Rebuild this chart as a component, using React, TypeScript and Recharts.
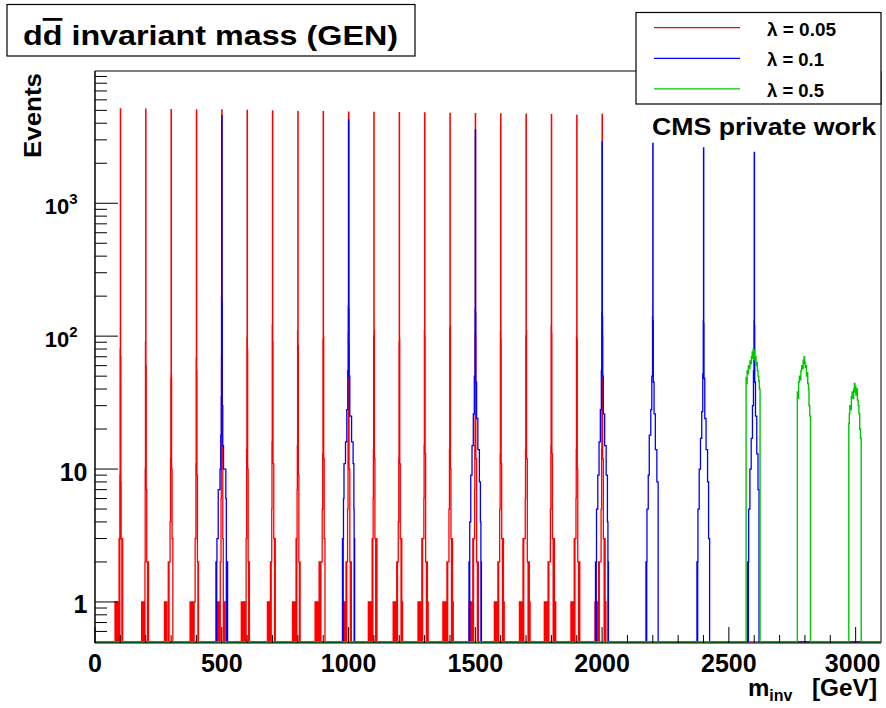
import { LineChart, Line, XAxis, YAxis, ReferenceLine } from "recharts";

// empty bins sit on the floor of the log axis
const F = 0.5;
const X_MAX = 3100;
const Y_MIN = 0.491;
const Y_MAX = 9890;

const RED = "#ff0000";
const BLUE = "#0000ff";
const GREEN = "#00c800";
const FONT = "'Liberation Sans', Arial, Helvetica, sans-serif";

// [m_inv lower bin edge (GeV), events], step-after encoding
const redPeaks: [number, number][][] = [
  [[79, 1], [81, F], [82, 1], [85, F], [86, 1], [88, F], [89, 1], [91, F], [95, 3], [97, F], [98, 9], [99, 80], [100, 5120], [101, 70], [102, 8], [103, 3], [106, F], [107, 3], [109, F]],
  [[184, 1], [186, F], [187, 1], [189, F], [190, 1], [192, F], [193, 1], [194, F], [197, 2], [198, 10], [199, 90], [200, 5100], [201, 60], [202, 7], [204, 2], [207, F], [208, 2], [211, F]],
  [[274, 1], [276, F], [277, 1], [279, F], [280, 1], [283, F], [289, 2], [291, F], [292, 2], [296, 4], [298, 12], [299, 48], [300, 5070], [301, 50], [302, 10], [304, 3], [307, F]],
  [[375, 1], [377, F], [378, 1], [381, F], [382, 1], [386, F], [388, 1], [390, F], [391, 1], [395, 3], [398, 11], [399, 68], [400, 5030], [401, 55], [402, 9], [404, 2], [406, F], [407, 2], [408, F]],
  [[481, 1], [483, F], [484, 1], [487, F], [488, 1], [490, F], [494, 2], [497, 6], [498, 14], [499, 70], [500, 5030], [501, 60], [502, 12], [504, 3], [506, F], [507, 1], [509, F], [510, 1], [513, F]],
  [[577, 1], [579, F], [580, 1], [583, F], [584, 1], [587, F], [588, 1], [591, F], [592, 1], [595, F], [596, 3], [598, 14], [599, 98], [600, 5000], [601, 80], [602, 10], [604, 2], [606, F], [607, 2], [609, F]],
  [[680, 1], [682, F], [683, 1], [685, F], [686, 1], [688, F], [692, 2], [694, F], [695, 2], [697, 5], [698, 16], [699, 121], [700, 4950], [701, 90], [702, 11], [705, 3], [708, F], [709, 3], [711, F]],
  [[779, 1], [781, F], [782, 1], [785, F], [786, 1], [790, F], [793, 3], [795, F], [796, 3], [797, 7], [798, 15], [799, 110], [800, 4900], [801, 85], [802, 9], [804, 2], [806, F], [807, 2], [809, F]],
  [[868, 1], [870, F], [871, 1], [874, F], [875, 1], [877, F], [878, 1], [880, F], [884, 2], [886, F], [887, 2], [890, F], [891, 2], [896, 5], [898, 13], [899, 95], [900, 4880], [901, 100], [902, 12], [904, 3], [907, F]],
  [[978, 1], [980, F], [981, 1], [983, F], [984, 1], [986, F], [990, 2], [992, F], [993, 2], [996, 5], [998, 16], [999, 105], [1000, 4850], [1001, 90], [1002, 10], [1005, 2], [1007, F], [1008, 2], [1011, F]],
  [[1078, 1], [1080, F], [1081, 1], [1084, F], [1085, 1], [1087, F], [1088, 1], [1090, F], [1093, 3], [1095, F], [1096, 3], [1097, 6], [1098, 14], [1099, 100], [1100, 4820], [1101, 110], [1102, 12], [1104, 3], [1107, F], [1108, 3], [1112, F]],
  [[1176, 1], [1178, F], [1179, 1], [1182, F], [1183, 1], [1186, F], [1190, 2], [1192, F], [1193, 2], [1196, 4], [1198, 12], [1199, 90], [1200, 4800], [1201, 95], [1202, 11], [1204, 3], [1207, F], [1208, 3], [1210, F], [1211, 1], [1213, F]],
  [[1274, 1], [1276, F], [1277, 1], [1280, F], [1281, 1], [1285, F], [1289, 3], [1291, F], [1292, 3], [1297, 6], [1298, 15], [1299, 110], [1300, 4780], [1301, 100], [1302, 13], [1304, 2], [1307, F], [1308, 2], [1311, F], [1312, 1], [1314, F]],
  [[1372, 1], [1374, F], [1375, 1], [1378, F], [1379, 1], [1383, F], [1388, 2], [1390, F], [1391, 2], [1396, 5], [1398, 14], [1399, 115], [1400, 4750], [1401, 120], [1402, 10], [1404, 3], [1406, F], [1407, 3], [1410, F], [1411, 1], [1413, F]],
  [[1476, 1], [1478, F], [1479, 1], [1482, F], [1483, 1], [1486, F], [1490, 3], [1492, F], [1493, 3], [1497, 7], [1498, 15], [1499, 105], [1500, 4720], [1501, 100], [1502, 12], [1505, 2], [1508, F], [1509, 2], [1512, F]],
  [[1575, 1], [1577, F], [1578, 1], [1581, F], [1582, 1], [1585, F], [1589, 2], [1591, F], [1592, 2], [1596, 5], [1598, 13], [1599, 110], [1600, 4700], [1601, 95], [1602, 11], [1604, 3], [1607, F], [1608, 3], [1611, F], [1612, 1], [1614, F]],
  [[1674, 1], [1676, F], [1677, 1], [1680, F], [1681, 1], [1684, F], [1688, 3], [1690, F], [1691, 3], [1697, 6], [1698, 14], [1699, 100], [1700, 4680], [1701, 110], [1702, 12], [1705, 2], [1708, F], [1709, 2], [1713, F], [1714, 1], [1716, F]],
  [[1772, 1], [1774, F], [1775, 1], [1778, F], [1779, 1], [1782, F], [1787, 2], [1789, F], [1790, 2], [1796, 5], [1798, 15], [1799, 120], [1800, 4650], [1801, 105], [1802, 13], [1804, 3], [1807, F], [1808, 3], [1812, F], [1813, 1], [1817, F]],
  [[1877, 1], [1879, F], [1880, 1], [1883, F], [1884, 1], [1886, F], [1890, 3], [1892, F], [1893, 3], [1897, 6], [1898, 14], [1899, 100], [1900, 4580], [1901, 95], [1902, 10], [1904, 2], [1907, F], [1908, 2], [1912, F]],
  [[1972, 1], [1974, F], [1975, 1], [1978, F], [1979, 1], [1982, F], [1986, 2], [1988, F], [1989, 2], [1996, 5], [1998, 14], [1999, 110], [2000, 4660], [2001, 100], [2002, 12], [2005, 3], [2008, F], [2009, 3], [2012, F], [2013, 1], [2015, F]],
];

const bluePeaks: [number, number][][] = [
  [[477, 2], [479, F], [480, 2], [481, 3], [486, 7], [493, 10], [496, 18], [498, 35], [499, 200], [500, 4540], [501, 180], [502, 30], [504, 15], [507, 10], [516, 6], [518, F], [519, 2], [521, F], [522, 2], [523, F]],
  [[976, 3], [978, F], [979, 3], [980, 6], [982, 11], [988, 16], [993, 28], [997, 55], [999, 170], [1000, 4240], [1001, 160], [1002, 50], [1005, 25], [1012, 16], [1018, 11], [1021, 5], [1022, F], [1023, 3], [1024, F]],
  [[1475, 2], [1477, F], [1478, 4], [1482, 9], [1487, 15], [1492, 26], [1496, 50], [1499, 160], [1500, 3560], [1501, 150], [1502, 45], [1505, 24], [1510, 14], [1516, 8], [1520, 4], [1522, F], [1523, 2], [1524, F]],
  [[1974, 2], [1976, F], [1977, 2], [1978, 5], [1983, 9], [1988, 16], [1993, 28], [1997, 55], [1999, 150], [2000, 2900], [2001, 140], [2002, 50], [2005, 26], [2010, 15], [2016, 9], [2021, 4], [2023, F], [2024, 2], [2025, F]],
  [[2173, 2], [2175, F], [2176, 2], [2177, 5], [2182, 9], [2186, 18], [2192, 28], [2196, 50], [2199, 140], [2200, 2820], [2201, 130], [2202, 45], [2205, 26], [2210, 14], [2216, 8], [2221, F]],
  [[2374, 2], [2376, F], [2377, 2], [2378, 5], [2383, 10], [2388, 17], [2393, 27], [2397, 52], [2399, 130], [2400, 2610], [2401, 125], [2402, 48], [2405, 24], [2410, 14], [2416, 8], [2420, 3], [2424, F]],
  [[2574, 2], [2576, F], [2577, 2], [2578, 5], [2583, 10], [2588, 17], [2593, 30], [2597, 55], [2599, 130], [2600, 2410], [2601, 120], [2602, 45], [2605, 25], [2610, 13], [2615, 7], [2619, F]],
];

const greenPeaks: [number, number][][] = [
  [[2568, 49], [2570, 44], [2572, 55], [2575, 52], [2577, 60], [2580, 57], [2583, 65], [2586, 62], [2589, 70], [2592, 76], [2594, 68], [2596, 80], [2598, 72], [2600, 78], [2602, 66], [2604, 70], [2607, 60], [2609, 63], [2612, 55], [2615, 50], [2618, 46], [2620, 40], [2623, F]],
  [[2770, 38], [2772, 34], [2775, 45], [2778, 50], [2781, 47], [2784, 55], [2787, 60], [2790, 57], [2793, 66], [2795, 62], [2797, 70], [2799, 64], [2801, 58], [2803, 60], [2806, 50], [2808, 53], [2811, 44], [2814, 40], [2816, 30], [2819, 25], [2822, F]],
  [[2973, 22], [2975, 26], [2977, 30], [2980, 28], [2983, 35], [2986, 38], [2989, 34], [2992, 40], [2995, 44], [2997, 38], [2999, 42], [3001, 36], [3004, 40], [3007, 33], [3010, 30], [3013, 26], [3016, 20], [3019, 17], [3022, F]],
];

const xTicks = [
  0, 100, 200, 300, 400, 500, 600, 700, 800, 900, 1000, 1100, 1200, 1300, 1400, 1500,
  1600, 1700, 1800, 1900, 2000, 2100, 2200, 2300, 2400, 2500, 2600, 2700, 2800, 2900, 3000,
];
const yTicks = [
  0.6, 0.7, 0.8, 0.9, 1, 2, 3, 4, 5, 6, 7, 8, 9, 10, 20, 30, 40, 50, 60, 70, 80, 90,
  100, 200, 300, 400, 500, 600, 700, 800, 900, 1000, 2000, 3000, 4000, 5000, 6000, 7000, 8000, 9000,
];
const yLabels: Record<number, [string, string]> = {
  1: ["1", ""],
  10: ["10", ""],
  100: ["10", "2"],
  1000: ["10", "3"],
};

const legendItems = [
  { label: "\u03bb = 0.05", color: RED },
  { label: "\u03bb = 0.1", color: BLUE },
  { label: "\u03bb = 0.5", color: GREEN },
];

const toSeries = (peaks: [number, number][][]) =>
  [[0, F] as [number, number], ...peaks.flat(), [X_MAX, F] as [number, number]].map(([m, n]) => ({ m, n }));

const redData = toSeries(redPeaks);
const blueData = toSeries(bluePeaks);
const greenData = toSeries(greenPeaks);

const XTick = (props: any) => {
  const { x, y, payload } = props;
  const v = payload.value as number;
  const major = v % 500 === 0;
  return (
    <g>
      <line x1={x} x2={x} y1={y} y2={y - (major ? 16 : 8)} stroke="#000" strokeWidth={1} />
      {major && (
        <text x={v === 3000 ? x - 3 : x} y={y + 28.5} textAnchor="middle" fontFamily={FONT} fontWeight="bold" fontSize={25} fill="#000">
          {v}
        </text>
      )}
    </g>
  );
};

const YTick = (props: any) => {
  const { x, y, payload } = props;
  const v = payload.value as number;
  const lab = yLabels[v];
  return (
    <g>
      <line x1={x} x2={x + (lab ? 23 : 12)} y1={y} y2={y} stroke="#000" strokeWidth={1} />
      {lab && !lab[1] && (
        <text x={x - 7.5} y={y + 11.5} textAnchor="end" fontFamily={FONT} fontWeight="bold" fontSize={25} fill="#000">
          {lab[0]}
        </text>
      )}
      {lab && lab[1] && (
        <text x={x - 17.5} y={y + 10.5} textAnchor="end" fontFamily={FONT} fontWeight="bold" fontSize={22} fill="#000">
          {lab[0]}
          <tspan fontSize={15} dy={-10}>
            {lab[1]}
          </tspan>
        </text>
      )}
    </g>
  );
};

export default function App() {
  return (
    <div style={{ position: "absolute", left: 0, top: 0, width: 886, height: 708, background: "#fff" }}>
      <LineChart width={886} height={708} margin={{ top: 71, right: 5, bottom: 0, left: 0 }}>
        <XAxis
          dataKey="m"
          type="number"
          domain={[0, X_MAX]}
          allowDataOverflow
          ticks={xTicks}
          interval={0}
          tick={<XTick />}
          tickSize={0}
          tickMargin={0}
          tickLine={false}
          height={65}
          axisLine={{ stroke: "#000", strokeWidth: 1 }}
        />
        <YAxis
          scale="log"
          type="number"
          domain={[Y_MIN, Y_MAX]}
          allowDataOverflow
          ticks={yTicks}
          interval={0}
          tick={<YTick />}
          tickSize={0}
          tickMargin={0}
          tickLine={false}
          width={95}
          axisLine={{ stroke: "#000", strokeWidth: 1.5 }}
        />
        <ReferenceLine y={Y_MAX} stroke="#000" strokeWidth={1} />
        <ReferenceLine x={X_MAX} stroke="#000" strokeWidth={1} />
        <Line data={redData} dataKey="n" type="stepAfter" stroke={RED} strokeWidth={1.3} dot={false} isAnimationActive={false} />
        <Line data={blueData} dataKey="n" type="stepAfter" stroke={BLUE} strokeWidth={1.3} dot={false} isAnimationActive={false} />
        <Line data={greenData} dataKey="n" type="stepAfter" stroke={GREEN} strokeWidth={1.4} dot={false} isAnimationActive={false} />
      </LineChart>

      <svg width={886} height={708} style={{ position: "absolute", left: 0, top: 0, pointerEvents: "none" }}>
        <g fontFamily={FONT} fontWeight="bold" fill="#000">
          <rect x={7} y={4.5} width={408} height={51.5} fill="#fff" stroke="#000" strokeWidth={1.2} />
          <text x={23} y={45} fontSize={28} textLength={375} lengthAdjust="spacingAndGlyphs">
            d<tspan textDecoration="overline">d</tspan> invariant mass (GEN)
          </text>

          <rect x={636} y={12.5} width={245} height={91.5} fill="#fff" stroke="#000" strokeWidth={1.2} />
          {legendItems.map((it, i) => (
            <g key={it.label}>
              <line x1={654} x2={740} y1={27.7 + i * 30.6} y2={27.7 + i * 30.6} stroke={it.color} strokeWidth={1.2} />
              <text x={767} y={36 + i * 30.4} fontSize={17.5} textLength={i === 0 ? 69 : 57} lengthAdjust="spacingAndGlyphs">
                {it.label}
              </text>
            </g>
          ))}

          <text x={652} y={135} fontSize={24} textLength={224} lengthAdjust="spacingAndGlyphs">
            CMS private work
          </text>

          <text
            transform="translate(41,158) rotate(-90)"
            x={0}
            y={0}
            fontSize={24}
            textLength={85}
            lengthAdjust="spacingAndGlyphs"
          >
            Events
          </text>

          <text x={748} y={696} fontSize={24}>
            m<tspan fontSize={16} dy={5}>inv</tspan>
          </text>
          <text x={812} y={696} fontSize={24} textLength={65} lengthAdjust="spacingAndGlyphs">
            [GeV]
          </text>
        </g>
      </svg>
    </div>
  );
}
